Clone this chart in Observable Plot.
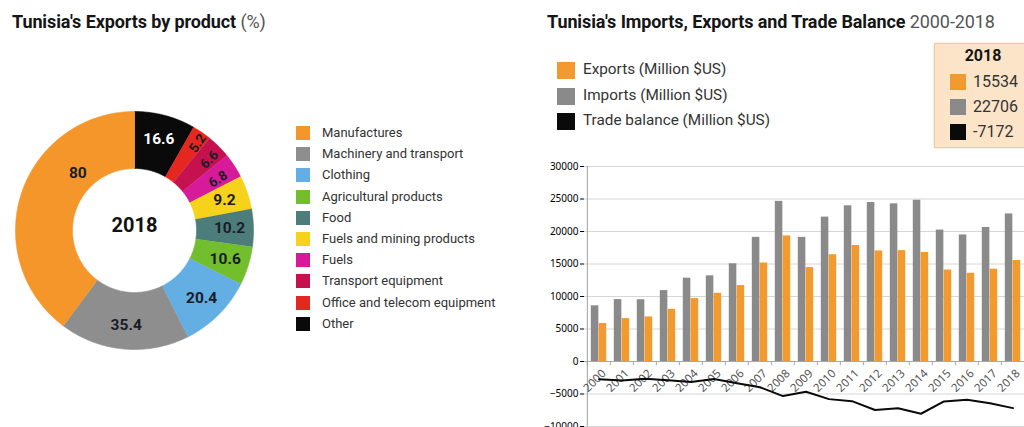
<!DOCTYPE html>
<html><head><meta charset="utf-8">
<script src="https://cdn.jsdelivr.net/npm/d3@7"></script>
<script src="https://cdn.jsdelivr.net/npm/@observablehq/plot@0.6"></script>
<style>
html,body{margin:0;padding:0;background:#fff;width:1024px;height:427px;overflow:hidden;font-family:Roboto,"Noto Sans",sans-serif;}
#page{position:relative;width:1024px;height:427px;overflow:hidden;}
.abs{position:absolute;white-space:nowrap;}
.title{font-size:18px;font-weight:700;color:#151515;letter-spacing:-0.1px;line-height:22px;}
.title span{font-weight:400;color:#555;}
.lg1{font-size:13px;color:#333;}
.lg2{font-size:15.3px;color:#333;}
.sw{position:absolute;}
svg{overflow:visible;}
</style></head>
<body><div id="page"></div>
<script>
// ---- Data: exports by product, 2018 (%) ----
const products = ["Manufactures","Machinery and transport","Clothing","Agricultural products","Food","Fuels and mining products","Fuels","Transport equipment","Office and telecom equipment","Other"];
const shares = [80, 35.4, 20.4, 10.6, 10.2, 9.2, 6.8, 6.6, 5.2, 16.6];
const productColors = ["#f5962a","#8e8e8e","#63aee3","#72be2d","#4d7d7a","#f6d21a","#d61a9a","#c5124f","#e5281f","#0a0a0a"];
const centerLabel = "2018";

// ---- Data: trade 2000-2018 (Million $US) ----
const years = ["2000","2001","2002","2003","2004","2005","2006","2007","2008","2009","2010","2011","2012","2013","2014","2015","2016","2017","2018"];
const exportsM = [5850,6606,6857,8027,9679,10494,11684,15147,19320,14449,16427,17847,17007,17060,16769,14073,13575,14204,15534];
const importsM = [8567,9522,9502,10910,12818,13177,15033,19100,24638,19096,22215,23952,24462,24255,24807,20221,19466,20624,22706];
const balanceM = [-2717,-2916,-2645,-2883,-3139,-2683,-3349,-3953,-5318,-4647,-5788,-6105,-7455,-7195,-8038,-6148,-5891,-6420,-7172];
const yTicks = [-10000,-5000,0,5000,10000,15000,20000,25000,30000];
const seriesNames = ["Exports (Million $US)","Imports (Million $US)","Trade balance (Million $US)"];
const seriesColors = ["#f39a2e","#8a8a8a","#0a0a0a"];
const boxYear = "2018";
const boxValues = ["15534","22706","-7172"];

const page = document.getElementById("page");
function addDiv(cls, css, html){const d=document.createElement("div");d.className=cls;d.style.cssText=css;d.innerHTML=html;page.appendChild(d);return d;}

// Titles
addDiv("abs title","left:12px;top:11px;","Tunisia's Exports by product <span>(%)</span>");
addDiv("abs title","left:547px;top:11px;","Tunisia's Imports, Exports and Trade Balance <span>2000-2018</span>");

// ---- Donut ----
const total = d3.sum(shares);
const slices = [];
let acc = 0;
for (let k = products.length - 1; k >= 0; k--) {
  const a0 = acc / total * 360; acc += shares[k]; const a1 = acc / total * 360;
  slices.push({name: products[k], value: shares[k], a0, a1});
}
const R1 = 119, R0 = 62;
const rad = a => a * Math.PI / 180;
const ringPts = [];
for (const s of slices) {
  const n = Math.max(2, Math.ceil(s.a1 - s.a0));
  for (let j = 0; j <= n; j++) { const a = rad(s.a0 + (s.a1 - s.a0) * j / n); ringPts.push({name: s.name, x: R1*Math.sin(a), y: R1*Math.cos(a)}); }
  for (let j = n; j >= 0; j--) { const a = rad(s.a0 + (s.a1 - s.a0) * j / n); ringPts.push({name: s.name, x: R0*Math.sin(a), y: R0*Math.cos(a)}); }
}
const labels = slices.map(s => {
  const span = s.a1 - s.a0;
  const big = span > 120;
  const small = span < 14 && (s.a0 + s.a1) / 2 < 70;
  let mid = s.a0 + span * (big ? 0.69 : 0.5);
  let r = big ? 81 : 95;
  let rot = 0;
  if (small) { rot = mid - 90; r = 122 - 0.42 * mid; mid += 1.5; }
  return {name: s.name, t: String(s.value), x: r*Math.sin(rad(mid)), y: r*Math.cos(rad(mid)), rot, small, dark: s.name !== "Other"};
});
const donut = Plot.plot({
  width: 270, height: 260, margin: 0,
  x: {domain: [-134, 136], axis: null},
  y: {domain: [-130, 130], axis: null},
  color: {domain: products, range: productColors},
  marks: [
    Plot.line(ringPts, {x: "x", y: "y", z: "name", fill: "name", stroke: "name", strokeWidth: 0.6}),
    Plot.text(labels.filter(d => d.dark && !d.small), {x: "x", y: "y", text: "t", fill: "#1c1c28", fontSize: 15.5, fontWeight: 700}),
    Plot.text(labels.filter(d => d.dark && d.small), {x: "x", y: "y", text: "t", rotate: "rot", fill: "#1c1c28", fontSize: 13.5, fontWeight: 700}),
    Plot.text(labels.filter(d => !d.dark), {x: "x", y: "y", text: "t", fill: "#ffffff", fontSize: 15.5, fontWeight: 700}),
    Plot.text([{x: 0, y: 0, t: centerLabel}], {x: "x", y: "y", text: "t", dy: -5, fill: "#111", fontSize: 20, fontWeight: 700})
  ]
});
donut.style.cssText = "position:absolute;left:0px;top:100px;font-family:Roboto,sans-serif;";
page.appendChild(donut);

// Donut legend
products.forEach((p, i) => {
  const cy = 133 + i * 21.2;
  addDiv("sw", `left:296px;top:${cy-7}px;width:14px;height:14px;background:${productColors[i]};`, "");
  addDiv("abs lg1", `left:322px;top:${cy-8}px;line-height:16px;`, p);
});

// ---- Bar chart legend ----
seriesNames.forEach((s, i) => {
  const cy = 70 + i * 25.5;
  addDiv("sw", `left:557px;top:${cy-8}px;width:18px;height:17px;background:${seriesColors[i]};`, "");
  addDiv("abs lg2", `left:583px;top:${cy-10}px;line-height:19px;`, s);
});
addDiv("abs", "left:934px;top:43px;width:120px;height:103px;background:#fce4c9;border:1px solid #f0c99c;box-shadow:0 0 2px #f3d5b0;", "");
addDiv("abs", "left:934px;top:46px;width:98px;text-align:center;font-size:16px;font-weight:700;color:#151515;line-height:19px;", boxYear);
boxValues.forEach((v, i) => {
  const cy = 82 + i * 25;
  addDiv("sw", `left:950px;top:${cy-8}px;width:16px;height:16px;background:${seriesColors[i]};`, "");
  addDiv("abs", `left:973px;top:${cy-10}px;font-size:16px;color:#333;line-height:19px;`, v);
});

// ---- Bar chart ----
const rows = years.map((y, i) => ({year: y, exp: exportsM[i], imp: importsM[i], bal: balanceM[i]}));
const W = 500, ML = 44, MR = 13;
const bw = (W - ML - MR) / years.length;
const gap = 3.8, half = (bw - 2 * gap) / 2;
const bars = Plot.plot({
  width: W, height: 277, marginLeft: ML, marginRight: MR, marginTop: 16, marginBottom: 1,
  x: {type: "band", domain: years, padding: 0, axis: null},
  y: {domain: [-10000, 30000], ticks: yTicks, tickSize: 4, tickPadding: 2, tickFormat: "d", label: null},
  style: {fontSize: "11px", color: "#555", fontFamily: "Roboto,sans-serif"},
  marks: [
    Plot.ruleY(yTicks, {stroke: "#d6d6d6"}),
    Plot.barY(rows, {x: "year", y: "imp", fill: seriesColors[1], insetLeft: gap, insetRight: gap + half}),
    Plot.barY(rows, {x: "year", y: "exp", fill: seriesColors[0], insetLeft: gap + half, insetRight: gap}),
    Plot.ruleY([0], {stroke: "#a8a8a8"}),
    Plot.ruleX(years, {x: d => d, dx: -bw / 2, y1: 0, y2: -650, stroke: "#a8a8a8"}),
    Plot.ruleX([years[0]], {x: d => d, dx: -bw / 2, stroke: "#a0a0a0"}),
    Plot.text(rows, {x: "year", y: 0, text: "year", rotate: -45, textAnchor: "end", dx: 5, dy: 10, fill: "#555", fontSize: 11.5}),
    Plot.line(rows, {x: "year", y: "bal", stroke: seriesColors[2], strokeWidth: 2})
  ]
});
bars.style.cssText = "position:absolute;left:540px;top:150px;";
page.appendChild(bars);
</script>
</body></html>
